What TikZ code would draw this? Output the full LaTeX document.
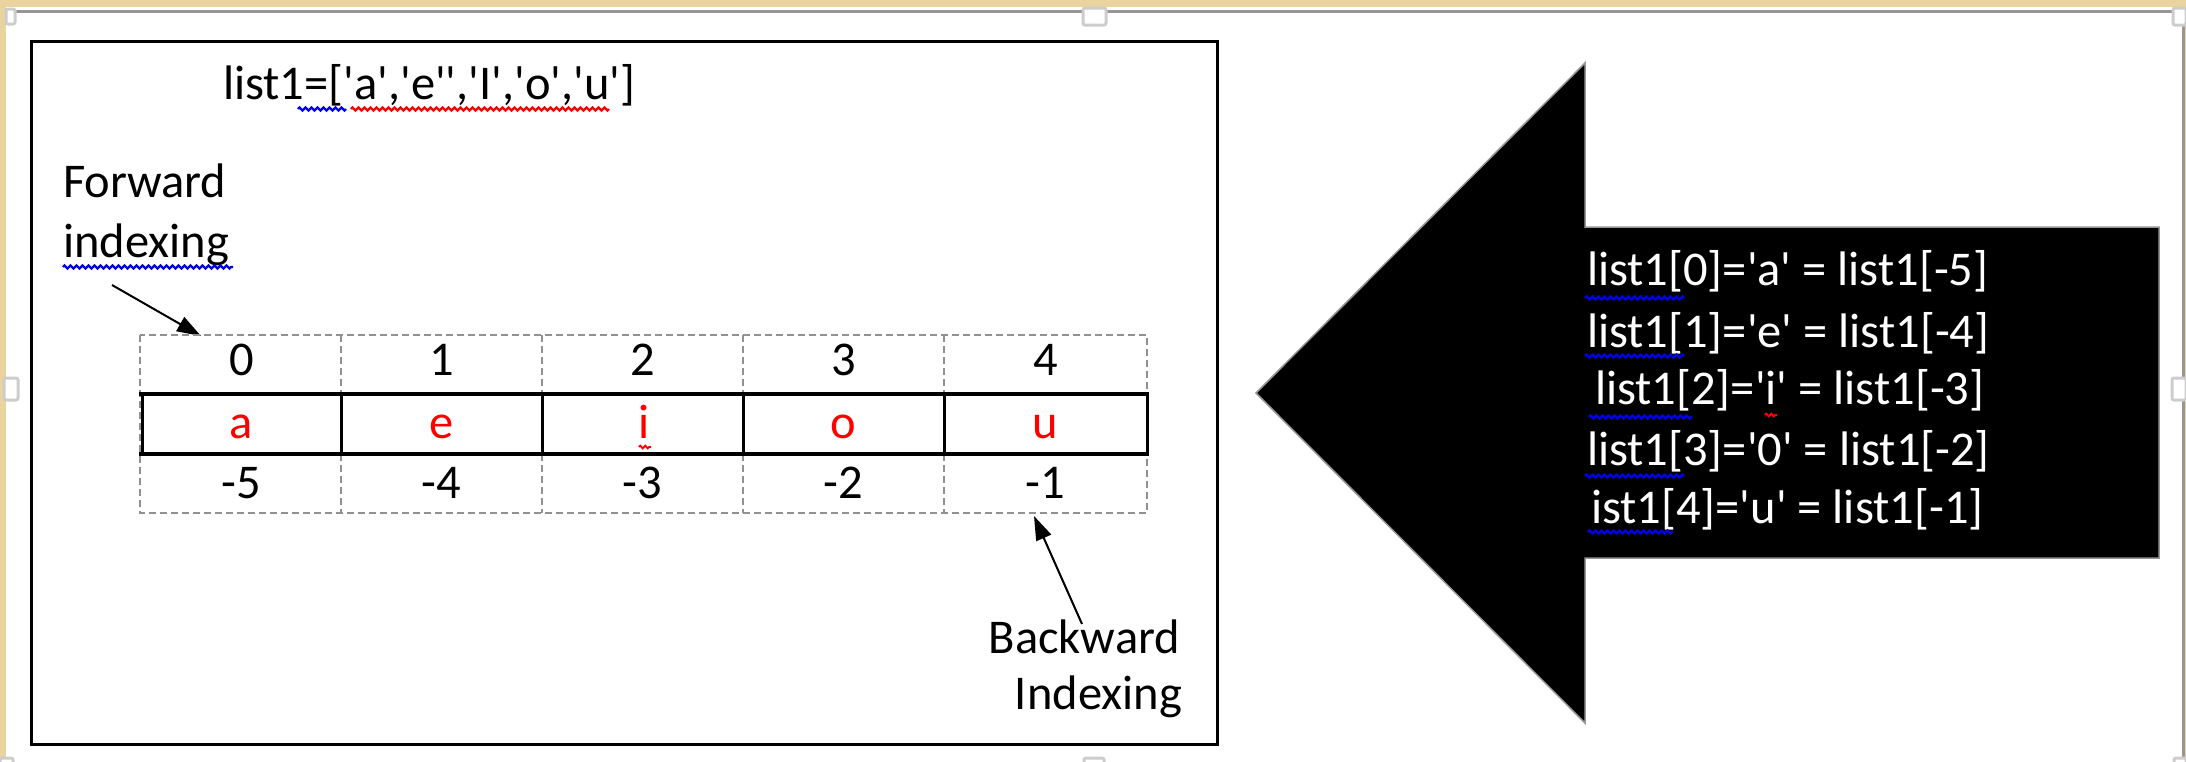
\documentclass[tikz,border=0pt]{standalone}
\usepackage{fontspec}
\setmainfont{Carlito}[Ligatures=TeXOff]
\usetikzlibrary{arrows.meta,decorations.pathmorphing}

\definecolor{parch}{RGB}{233,211,158}
\definecolor{selgray}{RGB}{150,150,150}
\definecolor{handlegray}{RGB}{205,205,205}
\definecolor{cellgray}{RGB}{145,145,145}
\definecolor{gramblue}{RGB}{0,0,235}

\begin{document}
\begin{tikzpicture}[x=1pt,y=-1pt,
  txt/.style={font=\fontsize{48.5}{58}\selectfont, inner sep=0pt, outer sep=0pt},
  lbl/.style={txt, anchor=base west},
  rlbl/.style={txt, anchor=base east},
  cellnum/.style={txt, anchor=base},
  vowel/.style={txt, anchor=base, text=red},
  wlbl/.style={lbl, text=white},
  dashgrid/.style={draw=cellgray, line width=2pt, dash pattern=on 7pt off 4pt},
  solidgrid/.style={draw=black, line width=3.2pt},
  pointer/.style={draw=black, line width=2pt, -{Triangle[length=24pt,width=16pt]}},
  squiggle/.style={line width=2.2pt, decorate,
    decoration={zigzag, segment length=6pt, amplitude=1.6pt}},
  handle/.style={draw=handlegray, line width=3pt, fill=white, rounded corners=2pt},
]
\useasboundingbox (0,0) rectangle (2186,761);
\fill[white] (0,0) rectangle (2186,761);

% parchment page edges
\fill[parch] (0,0) rectangle (2186,7);
\fill[parch] (0,0) rectangle (6,761);
\fill[parch] (2185,0) rectangle (2186,761);

% selection frame of the text box
\draw[selgray, line width=3pt] (13,11.5) -- (2174,11.5);
\draw[selgray, line width=3pt] (2183.5,23) -- (2183.5,761);
\draw[handle] (1083,8) rectangle (1106,25);
\draw[handle] (2173,8) rectangle (2186,25);
\draw[handle] (6,9) rectangle (15,24);
\draw[handle] (4,378) rectangle (18,400);
\draw[handle] (2172,378) rectangle (2186,400);
\draw[handle] (1084,758) rectangle (1104,765);
\draw[handle] (0,758) rectangle (13,765);
\draw[handle] (2174,758) rectangle (2186,765);

% left panel frame
\draw[black, line width=3pt] (31,41.5) rectangle (1217.5,744);

% list definition
\node[lbl] (def) at (223,99) {list1=['a','e'','I','o','u']};
\draw[squiggle, gramblue] (298,109) -- (346,109);
\draw[squiggle, red] (351,109) -- (609,109);

% forward indexing label and pointer
\node[lbl] (fwd1) at (63,197) {Forward};
\node[lbl] (fwd2) at (63,257) {indexing};
\draw[squiggle, gramblue] (63,267) -- (233,267);
\coordinate (fwdtail) at (112,285);
\coordinate (fwdhead) at (201,336);
\draw[pointer] (fwdtail) -- (fwdhead);

% index table: dashed grid for the index rows
\draw[dashgrid] (140,335) rectangle (1147,513);
\foreach \x in {341,542,743,944}{
  \draw[dashgrid] (\x,335) -- (\x,394);
  \draw[dashgrid] (\x,454) -- (\x,513);
}
% solid row holding the elements
\draw[solidgrid] (139,394) -- (1148.5,394);
\draw[solidgrid] (139,454) -- (1148.5,454);
\foreach \x in {142.5,341,542,743,944,1147}{
  \draw[black, line width=3pt] (\x,394) -- (\x,454);
}

% positive indices, elements, negative indices
\foreach \i/\x in {0/241.5,1/441.5,2/642.5,3/843.5,4/1045.5}{
  \node[cellnum] (pos\i) at (\x,375) {\i};
}
\node[vowel] (v0) at (241.5,438) {a};
\node[vowel] (v1) at (441.5,438) {e};
\node[vowel] (v2) at (644.5,438) {i};
\node[vowel] (v3) at (843.5,438) {o};
\node[vowel] (v4) at (1045.5,438) {u};
\draw[squiggle, red, line width=1.8pt, decoration={zigzag, segment length=5pt, amplitude=1.4pt}] (639,447) -- (651,447);
\node[cellnum] (neg5) at (241.5,498) {-5};
\node[cellnum] (neg4) at (441.5,498) {-4};
\node[cellnum] (neg3) at (642.5,498) {-3};
\node[cellnum] (neg2) at (843.5,498) {-2};
\node[cellnum] (neg1) at (1045.5,498) {-1};

% backward indexing label and pointer
\node[rlbl] (bwd1) at (1180,653) {Backward};
\node[rlbl] (bwd2) at (1182,709) {Indexing};
\coordinate (bwdtail) at (1082,624);
\coordinate (bwdhead) at (1034,516);
\draw[pointer] (bwdtail) -- (bwdhead);

% large left-pointing block arrow
\fill[black, draw=selgray, line width=1.5pt]
  (2159,227) -- (1585,227) -- (1585,63) -- (1256,393)
  -- (1585,723) -- (1585,558) -- (2159,558) -- cycle;

% equivalences written on the arrow
\node[wlbl] (eq0) at (1587,285) {list1[0]='a' = list1[-5]};
\node[wlbl] (eq1) at (1587,347) {list1[1]='e' = list1[-4]};
\node[wlbl] (eq2) at (1595,404) {list1[2]='i' = list1[-3]};
\node[wlbl] (eq3) at (1587,465) {list1[3]='0' = list1[-2]};
\node[wlbl] (eq4) at (1591,523) {ist1[4]='u' = list1[-1]};
\draw[squiggle, gramblue] (1585,298) -- (1684,298);
\draw[squiggle, gramblue] (1585,356) -- (1684,356);
\draw[squiggle, gramblue] (1589,417) -- (1692,417);
\draw[squiggle, gramblue] (1585,476) -- (1684,476);
\draw[squiggle, gramblue] (1588,532) -- (1673,532);
\draw[squiggle, red, line width=1.8pt, decoration={zigzag, segment length=5pt, amplitude=1.4pt}] (1765,415) -- (1777,415);
\end{tikzpicture}
\end{document}
